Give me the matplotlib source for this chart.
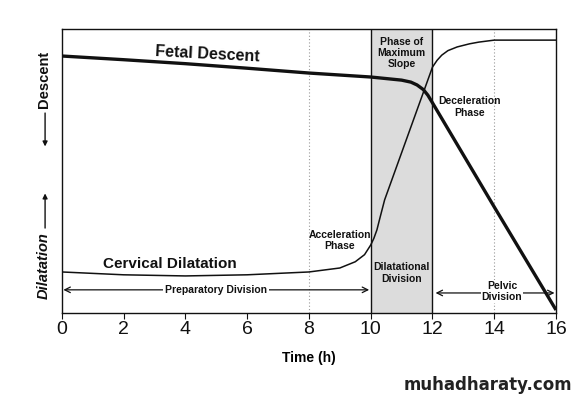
"""Labour curve: fetal descent and cervical dilatation vs time (Friedman curve)."""

import matplotlib
matplotlib.use("Agg")
import matplotlib.pyplot as plt

plt.rcParams.update({
    "font.family": ["Liberation Sans", "DejaVu Sans"],
    "text.color": "#111111",
    "axes.edgecolor": "#111111",
    "xtick.color": "#111111",
})

# values (y: 0 = bottom of box, 100 = top)
descent_time = [0, 2, 4, 6, 8, 10, 11, 11.3, 11.5, 11.7, 11.85, 12, 14, 16]
descent_pos = [90.5, 89.2, 87.8, 86.2, 84.5, 83.1, 82.0, 81.3, 80.3, 78.7, 76.7, 74.0, 37.3, 1.0]

dilat_time = [0, 2, 4, 6, 8, 9, 9.5, 9.8, 10, 10.1, 10.2, 10.3, 10.45, 12, 12.15, 12.3, 12.5,
              12.8, 13.2, 13.5, 14, 16]
dilat_pos = [14.4, 13.4, 13.0, 13.4, 14.4, 15.8, 18.0, 20.5, 23.9, 26.2, 29.2, 33.5, 39.8,
             86.6, 89.0, 90.8, 92.4, 93.7, 94.8, 95.4, 96.1, 96.1]

x_ticks = [0, 2, 4, 6, 8, 10, 12, 14, 16]
dotted_lines = [8, 14]
band = (10, 12)

fig = plt.figure(figsize=(5.78, 3.98), dpi=100)
ax = fig.add_axes([0.107, 0.214, 0.855, 0.713])

ax.axvspan(*band, color="#dcdcdc", lw=0, zorder=0)
for xv in band:
    ax.axvline(xv, color="#111111", lw=1.0, zorder=1)
for xv in dotted_lines:
    ax.axvline(xv, color="#999999", lw=0.8, ls=(0, (1, 2)), zorder=1)

ax.plot(descent_time, descent_pos, color="#111111", lw=2.4, solid_capstyle="butt", zorder=3)
ax.plot(dilat_time, dilat_pos, color="#111111", lw=1.1, zorder=3)

# division arrows
arrow = dict(arrowstyle="<->", color="#111111", lw=0.9, shrinkA=0, shrinkB=0)
ax.annotate("", xy=(0.05, 8.1), xytext=(9.95, 8.1), arrowprops=arrow)
ax.annotate("", xy=(12.1, 7.0), xytext=(15.95, 7.0), arrowprops=arrow)
ax.text(5.0, 8.1, "Preparatory Division", ha="center", va="center", fontsize=7.5,
        fontweight="bold", bbox=dict(fc="white", ec="none", pad=1.5), zorder=4)
ax.text(14.25, 7.5, "Pelvic\nDivision", ha="center", va="center", fontsize=7.5,
        fontweight="bold", bbox=dict(fc="white", ec="none", pad=0.5), zorder=4,
        linespacing=1.2)

# curve / phase labels
ax.text(4.7, 91.2, "Fetal Descent", ha="center", va="center", fontsize=11.5,
        fontweight="bold", rotation=-3)
ax.text(3.5, 17.3, "Cervical Dilatation", ha="center", va="center", fontsize=11,
        fontweight="bold")
ax.text(11.0, 91.5, "Phase of\nMaximum\nSlope", ha="center", va="center", fontsize=7.5,
        fontweight="bold", linespacing=1.1)
ax.text(11.0, 14.0, "Dilatational\nDivision", ha="center", va="center", fontsize=7.5,
        fontweight="bold", linespacing=1.2)
ax.text(13.2, 72.5, "Deceleration\nPhase", ha="center", va="center", fontsize=7.5,
        fontweight="bold", linespacing=1.2)
ax.text(9.0, 25.5, "Acceleration\nPhase", ha="center", va="center", fontsize=7.5,
        fontweight="bold", linespacing=1.2)

ax.set_xlim(0, 16)
ax.set_ylim(0, 100)
ax.set_xticks(x_ticks)
ax.set_xticklabels([str(t) for t in x_ticks], fontsize=14)
ax.set_yticks([])
ax.tick_params(axis="x", length=4, width=0.8, pad=2)
for s in ax.spines.values():
    s.set_linewidth(1.0)
ax.set_xlabel("Time (h)", fontsize=10, fontweight="bold", labelpad=9)

# y-axis direction labels
fig.text(0.076, 0.80, "Descent", rotation=90, ha="center", va="center",
         fontsize=10.5, fontweight="bold")
fig.text(0.076, 0.333, "Dilatation", rotation=90, ha="center", va="center",
         fontsize=10.5, fontweight="bold", style="italic")
yarrow = dict(arrowstyle="-|>", color="#111111", lw=1.0, mutation_scale=7, shrinkA=0, shrinkB=0)
fig.add_artist(matplotlib.patches.FancyArrowPatch((0.078, 0.716), (0.078, 0.632),
               transform=fig.transFigure, **yarrow))
fig.add_artist(matplotlib.patches.FancyArrowPatch((0.078, 0.427), (0.078, 0.514),
               transform=fig.transFigure, **yarrow))

fig.text(0.99, 0.032, "muhadharaty.com", ha="right", va="center", fontsize=12,
         fontweight="bold", family="DejaVu Sans", color="#222222")

fig.savefig("out.png", dpi=100)
